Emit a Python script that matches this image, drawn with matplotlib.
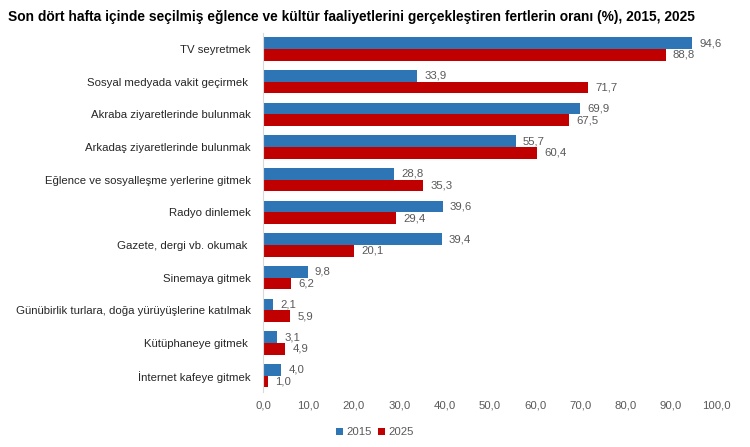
import numpy as np
import matplotlib.pyplot as plt

plt.rcParams['font.family'] = ['Liberation Sans', 'DejaVu Sans']

# Veriler
kategoriler = [
    'TV seyretmek',
    'Sosyal medyada vakit geçirmek ',
    'Akraba ziyaretlerinde bulunmak',
    'Arkadaş ziyaretlerinde bulunmak',
    'Eğlence ve sosyalleşme yerlerine gitmek',
    'Radyo dinlemek',
    'Gazete, dergi vb. okumak ',
    'Sinemaya gitmek',
    'Günübirlik turlara, doğa yürüyüşlerine katılmak',
    'Kütüphaneye gitmek ',
    'İnternet kafeye gitmek',
]
y2015 = [94.6, 33.9, 69.9, 55.7, 28.8, 39.6, 39.4, 9.8, 2.1, 3.1, 4.0]
y2025 = [88.8, 71.7, 67.5, 60.4, 35.3, 29.4, 20.1, 6.2, 5.9, 4.9, 1.0]
xticks = [0, 10, 20, 30, 40, 50, 60, 70, 80, 90, 100]

mavi = '#2E75B6'
kirmizi = '#C00000'
gri = '#595959'

fig = plt.figure(figsize=(7.5, 4.47), dpi=100)
ax = fig.add_axes([0.351, 0.123, 0.604, 0.804])

n = len(kategoriler)
pos = np.arange(n)
h = 0.36
b1 = ax.barh(pos - h / 2, y2015, height=h, color=mavi, label='2015')
b2 = ax.barh(pos + h / 2, y2025, height=h, color=kirmizi, label='2025')

for bars, vals in [(b1, y2015), (b2, y2025)]:
    for bar, v in zip(bars, vals):
        ax.text(bar.get_width() + 1.6, bar.get_y() + bar.get_height() / 2,
                f'{v:.1f}'.replace('.', ','), va='center', ha='left',
                fontsize=8.2, color=gri)

ax.set_ylim(n - 0.5, -0.5)
ax.set_xlim(0, 100)
ax.set_yticks(pos)
ax.set_yticklabels(kategoriler, fontsize=8.2, color='#262626')
ax.set_xticks(xticks)
ax.set_xticklabels([f'{x:.1f}'.replace('.', ',') for x in xticks], fontsize=8.2, color=gri)
ax.tick_params(axis='y', length=0, pad=9)
ax.tick_params(axis='x', length=0, pad=6)
for s in ['top', 'right', 'bottom']:
    ax.spines[s].set_visible(False)
ax.spines['left'].set_color('#D9D9D9')

fig.text(0.011, 0.978, 'Son dört hafta içinde seçilmiş eğlence ve kültür faaliyetlerini gerçekleştiren fertlerin oranı (%), 2015, 2025',
         fontsize=9.9, fontweight='bold', va='top', ha='left')

fig.legend(handles=[b1, b2], loc='center', bbox_to_anchor=(0.5, 0.033), ncol=2,
           frameon=False, fontsize=8.2, handlelength=0.6, handleheight=0.6,
           handletextpad=0.3, columnspacing=0.6, labelcolor=gri)

fig.savefig('out.png', dpi=100)
